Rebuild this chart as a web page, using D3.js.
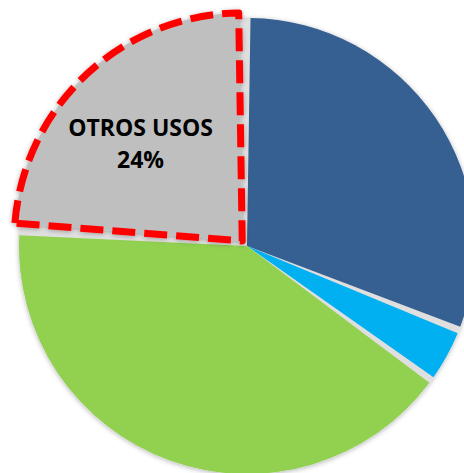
<!DOCTYPE html>
<html>
<head>
<meta charset="utf-8">
<script src="https://cdn.jsdelivr.net/npm/d3@7"></script>
<style>
  html, body { margin: 0; padding: 0; background: #fff; }
  svg { display: block; }
</style>
</head>
<body>
<div id="chart"></div>
<script>
var categories = ['USO 1', 'USO 2', 'USO 3', 'OTROS USOS'];
var values = [31, 4, 41, 24];
var colors = ['#376092', '#00B0F0', '#92D050', '#BFBFBF'];
var labeled = ['OTROS USOS'];   // only this slice carries a label
var exploded = ['OTROS USOS'];

var width = 464;
var height = 473;
var cx = 247;
var cy = 246;
var radius = 228;
var gap = 7;
var explode = 7;

var svg = d3.select('#chart').append('svg')
.attr('width', width)
.attr('height', height);

var defs = svg.append('defs');

var shadow = defs.append('filter')
.attr('id', 'shadow')
.attr('x', '-10%')
.attr('y', '-10%')
.attr('width', '120%')
.attr('height', '120%');

shadow.append('feDropShadow')
.attr('dx', 0)
.attr('dy', 1)
.attr('stdDeviation', 2.5)
.attr('flood-color', '#000')
.attr('flood-opacity', 0.3);

var g = svg.append('g')
.attr('transform', 'translate(' + cx + ',' + cy + ')');

var data = categories.map(function (c, i) {
  return { name: c, value: values[i], color: colors[i] };
});

var pie = d3.pie()
.sort(null)
.value(function (d) { return d.value; });

var arc = d3.arc()
.innerRadius(0)
.outerRadius(radius)
.padRadius(radius)
.padAngle(gap / radius);

var labelArc = d3.arc()
.innerRadius(radius * 0.6)
.outerRadius(radius * 0.6);

var arcs = pie(data);

function offset(d) {
  if (exploded.indexOf(d.data.name) < 0) return [0, 0];
  var a = (d.startAngle + d.endAngle) / 2;
  return [Math.sin(a) * explode, -Math.cos(a) * explode];
}

// light grey disc that shows through the gaps between slices
g.append('circle')
.attr('r', radius)
.attr('fill', '#dfdfdf')
.attr('filter', 'url(#shadow)');

var slices = g.selectAll('path.slice')
.data(arcs)
.enter()
.append('path')
.attr('class', 'slice')
.attr('transform', function (d) {
  var o = offset(d);
  return 'translate(' + o[0] + ',' + o[1] + ')';
})
.attr('fill', function (d) { return d.data.color; })
.attr('d', arc);

slices.filter(function (d) { return exploded.indexOf(d.data.name) >= 0; })
.attr('filter', 'url(#shadow)')
.attr('stroke', '#ff0000')
.attr('stroke-width', 7)
.attr('stroke-dasharray', '23 9')
.attr('stroke-linejoin', 'round');

var labels = g.selectAll('text.label')
.data(arcs.filter(function (d) { return labeled.indexOf(d.data.name) >= 0; }))
.enter()
.append('text')
.attr('class', 'label')
.attr('text-anchor', 'middle')
.attr('font-family', '"Open Sans", sans-serif')
.attr('font-weight', 'bold')
.attr('font-size', '23px')
.attr('fill', '#000')
.attr('transform', function (d) {
  var c = labelArc.centroid(d);
  var o = offset(d);
  // Excel sets the label a bit left of the slice centroid
  return 'translate(' + (c[0] + o[0] - 8) + ',' + (c[1] + o[1] + 1) + ')';
});

labels.append('tspan')
.attr('x', 0)
.attr('dy', '-0.25em')
.text(function (d) { return d.data.name; });

labels.append('tspan')
.attr('x', 0)
.attr('dy', 32)
.text(function (d) { return d.data.value + '%'; });
</script>
</body>
</html>
